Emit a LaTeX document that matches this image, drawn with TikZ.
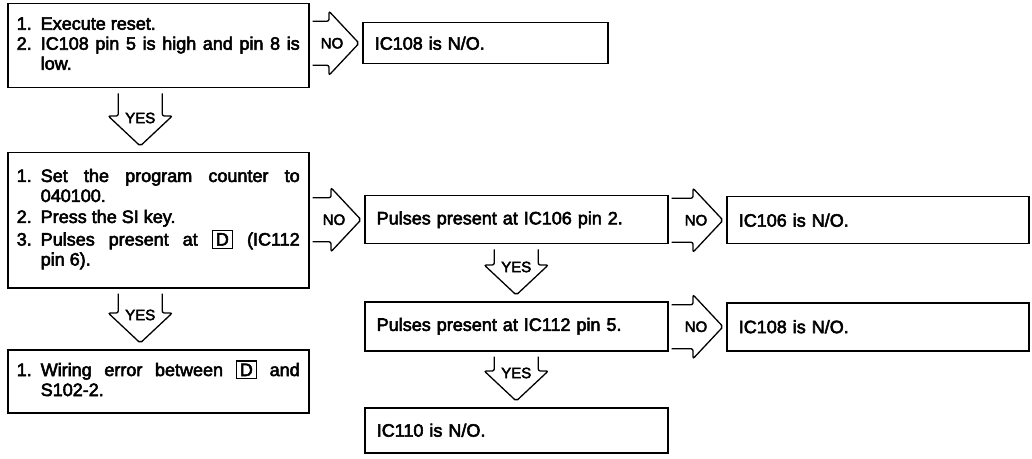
\documentclass[tikz,border=0pt]{standalone}
\usepackage{fontspec}
\setmainfont{Liberation Sans}[FakeBold=3]
\usetikzlibrary{calc}

\newlength{\numwd}\setlength{\numwd}{24pt}
% numbered step with hanging indent
\newcommand{\stepitem}[2]{\noindent\makebox[\numwd][l]{#1}\parbox[t]{\dimexpr\hsize-\numwd\relax}{#2\strut}\par}
% boxed connector letter
\newcommand{\keybox}[1]{{\setlength{\fboxsep}{2pt}\setlength{\fboxrule}{1.2pt}\fbox{\makebox[15pt]{#1}}}}

% open-tailed block arrow to the right, labelled NO
\newcommand{\noarrow}[2]{%
  \coordinate (#1-#2s) at ($(#1.east |- #2.west)+(3,0)$);
  \coordinate (#1-#2t) at ($(#2.west)+(-3,0)$);
  \draw[blockarrow] ($(#1-#2s)+(0,22)$) -- ($(#1-#2t)+(-30,22)$) -- ($(#1-#2t)+(-30,32)$) -- (#1-#2t)
    -- ($(#1-#2t)+(-30,-32)$) -- ($(#1-#2t)+(-30,-22)$) -- ($(#1-#2s)+(0,-22)$);
  \node[answer] (#1-#2l) at ($(#1-#2t)+(-27,0)$) {NO};
}
% open-tailed block arrow downwards, labelled YES
\newcommand{\yesarrow}[3]{%
  \coordinate (#1-#2s) at ($(#1.south)+(#3,-5)$);
  \coordinate (#1-#2t) at ($(#1-#2s |- #2.north)+(0,6)$);
  \draw[blockarrow] ($(#1-#2s)+(-22,0)$) -- ($(#1-#2t)+(-22,30)$) -- ($(#1-#2t)+(-32,30)$) -- (#1-#2t)
    -- ($(#1-#2t)+(32,30)$) -- ($(#1-#2t)+(22,30)$) -- ($(#1-#2s)+(22,0)$);
  \node[answer] (#1-#2l) at ($(#1-#2t)+(0,28)$) {YES};
}

\begin{document}
\begin{tikzpicture}[
    x=1pt, y=1pt,
    every node/.style={font=\fontsize{18}{20}\selectfont},
    box/.style={draw, line width=1.5pt, anchor=north west, inner xsep=12pt, inner ysep=0pt, align=left},
    stepbox/.style={box, inner xsep=9pt, text width=283pt, align=justify},
    blockarrow/.style={draw, line width=1.3pt, rounded corners=2pt},
    answer/.style={font=\fontsize{15}{15}\selectfont, inner sep=0pt}
  ]
  \useasboundingbox (0,0) rectangle (1032,458);

  % Left column: checks
  \node[stepbox, minimum height=84pt] (reset) at (7,455)
    {\stepitem{1.}{Execute reset.}\stepitem{2.}{IC108 pin 5 is high and pin 8 is\linebreak low.}};
  \node[stepbox, minimum height=135pt] (counter) at (7,306)
    {\stepitem{1.}{Set the program counter to\linebreak 040100.}\stepitem{2.}{Press the SI key.}%
     \stepitem{3.}{Pulses present at \keybox{D} (IC112\linebreak pin 6).}};
  \node[stepbox, minimum height=63pt] (wiring) at (7,109)
    {\stepitem{1.}{Wiring error between \keybox{D} and\linebreak S102-2.}};

  % Middle column
  \node[box, text width=221pt, minimum height=41pt] (err108) at (362,436) {IC108 is N/O.};
  \node[box, text width=279pt, minimum height=48pt] (pin2) at (364,263) {Pulses present at IC106 pin 2.};
  \node[box, text width=279pt, minimum height=49pt] (pin5) at (364,157) {Pulses present at IC112 pin 5.};
  \node[box, text width=279pt, minimum height=45pt] (ic110) at (364,51) {IC110 is N/O.};

  % Right column
  \node[box, text width=278pt, minimum height=47pt] (ic106) at (726,262) {IC106 is N/O.};
  \node[box, text width=278pt, minimum height=48pt] (ic108) at (726,156) {IC108 is N/O.};

  % NO branches
  \noarrow{reset}{err108}
  \noarrow{counter}{pin2}
  \noarrow{pin2}{ic106}
  \noarrow{pin5}{ic108}

  % YES branches
  \yesarrow{reset}{counter}{-18}
  \yesarrow{counter}{wiring}{-18}
  \yesarrow{pin2}{pin5}{0}
  \yesarrow{pin5}{ic110}{0}
\end{tikzpicture}
\end{document}
